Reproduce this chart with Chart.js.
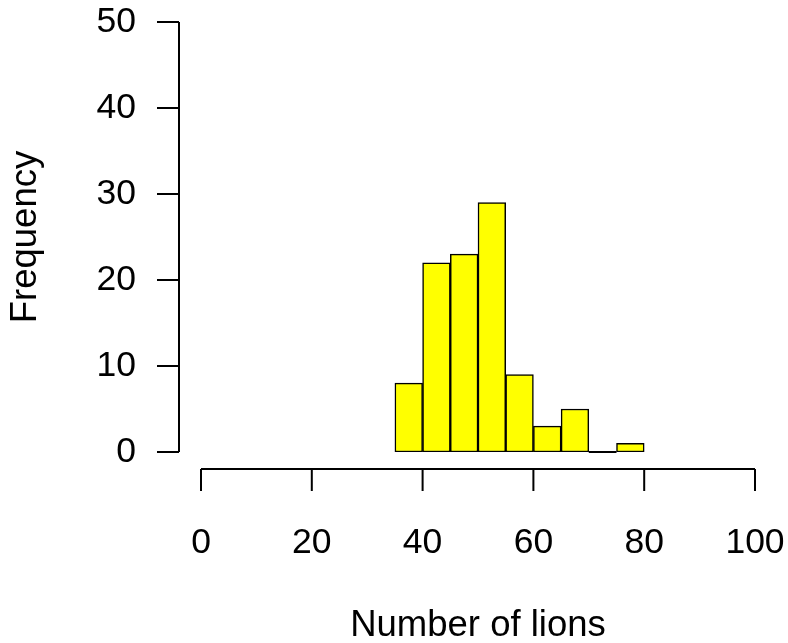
<!DOCTYPE html>
<html>
<head>
<meta charset="utf-8">
<script src="https://cdn.jsdelivr.net/npm/chart.js@4/dist/chart.umd.min.js"></script>
<style>
  html, body { margin: 0; padding: 0; background: #fff; }
  #wrap { width: 788px; height: 643px; position: relative; }
</style>
</head>
<body>
<div id="wrap"><canvas id="c"></canvas></div>
<script>
// histogram bins (5 lions wide) and counts
let binStarts = [35, 40, 45, 50, 55, 60, 65, 70, 75];
let counts = [8, 22, 23, 29, 9, 3, 5, 0, 1];
let binWidth = 5;
let xTicks = [0, 20, 40, 60, 80, 100];
let yTicks = [0, 10, 20, 30, 40, 50];

let points = binStarts.map((s, i) => ({ x: s + binWidth / 2, y: counts[i] }));

let tickFont = '35.5px "Liberation Sans", Arial, sans-serif';
let titleFont = '36.5px "Liberation Sans", Arial, sans-serif';

// R-style axes drawn off the plot area
let rAxes = {
    id: 'rAxes',
    afterDraw(chart) {
        let ctx = chart.ctx;
        let xs = chart.scales.x, ys = chart.scales.y;
        ctx.save();
        ctx.strokeStyle = '#000';
        ctx.fillStyle = '#000';
        ctx.lineWidth = 2;
        ctx.font = tickFont;

        // empty bins still get a flat line, like R does
        ctx.beginPath();
        binStarts.forEach((s, i) => {
            if (counts[i] === 0) {
                ctx.moveTo(xs.getPixelForValue(s), ys.getPixelForValue(0));
                ctx.lineTo(xs.getPixelForValue(s + binWidth), ys.getPixelForValue(0));
            }
        });
        ctx.stroke();

        // y axis
        let ax = xs.left - 22;
        ctx.beginPath();
        ctx.moveTo(ax, ys.getPixelForValue(yTicks[0]));
        ctx.lineTo(ax, ys.getPixelForValue(yTicks[yTicks.length - 1]));
        yTicks.forEach(t => {
            let py = ys.getPixelForValue(t);
            ctx.moveTo(ax, py);
            ctx.lineTo(ax - 22, py);
        });
        ctx.stroke();
        ctx.textAlign = 'right';
        ctx.textBaseline = 'middle';
        yTicks.forEach(t => ctx.fillText(String(t), ax - 43, ys.getPixelForValue(t)));

        // x axis
        let ay = ys.bottom + 17;
        ctx.beginPath();
        ctx.moveTo(xs.getPixelForValue(xTicks[0]), ay);
        ctx.lineTo(xs.getPixelForValue(xTicks[xTicks.length - 1]), ay);
        xTicks.forEach(t => {
            let px = xs.getPixelForValue(t);
            ctx.moveTo(px, ay);
            ctx.lineTo(px, ay + 22);
        });
        ctx.stroke();
        ctx.textAlign = 'center';
        xTicks.forEach(t => ctx.fillText(String(t), xs.getPixelForValue(t), 543));

        // axis titles
        ctx.font = titleFont;
        ctx.fillText('Number of lions', (xs.left + xs.right) / 2, 626);
        ctx.translate(26, (ys.top + ys.bottom) / 2);
        ctx.rotate(-Math.PI / 2);
        ctx.fillText('Frequency', 0, 0);
        ctx.restore();
    }
};

new Chart(document.getElementById('c'), {
    type: 'bar',
    data: {
        datasets: [{
            data: points,
            backgroundColor: '#ffff00',
            borderColor: '#000',
            borderWidth: 1.5,
            borderSkipped: false,
            barPercentage: 1,
            categoryPercentage: 1,
            grouped: false
        }]
    },
    options: {
        responsive: true,
        maintainAspectRatio: false,
        animation: false,
        layout: { padding: { left: 201, right: 33, top: 22, bottom: 191 } },
        plugins: { legend: { display: false }, tooltip: { enabled: false } },
        scales: {
            x: { type: 'linear', min: 0, max: 100, offset: false, display: false },
            y: { min: 0, max: 50, display: false }
        }
    },
    plugins: [rAxes]
});
</script>
</body>
</html>
